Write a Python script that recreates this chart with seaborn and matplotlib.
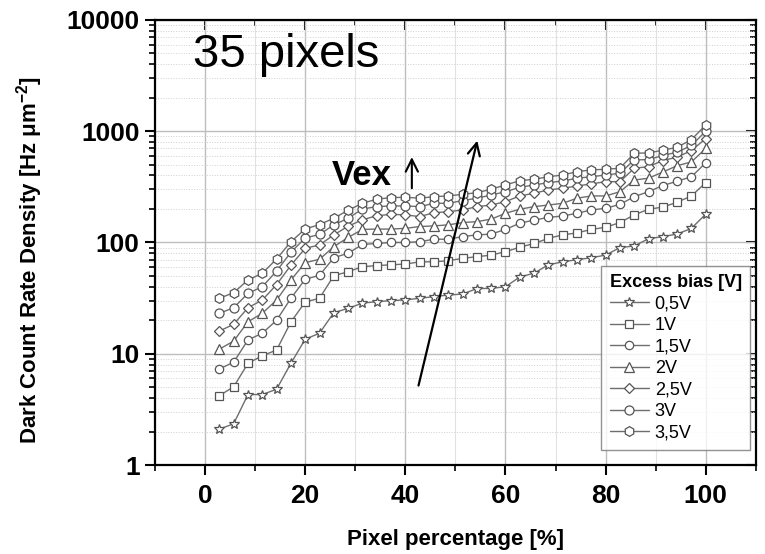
import matplotlib
matplotlib.use("Agg")
import matplotlib.pyplot as plt
import pandas as pd
import seaborn as sns
from matplotlib.ticker import FixedLocator, LogLocator, NullFormatter

# Pixel percentage positions (35 pixels)
pixel_pct = [2.857, 5.714, 8.571, 11.429, 14.286, 17.143, 20.0, 22.857, 25.714,
             28.571, 31.429, 34.286, 37.143, 40.0, 42.857, 45.714, 48.571, 51.429,
             54.286, 57.143, 60.0, 62.857, 65.714, 68.571, 71.429, 74.286, 77.143,
             80.0, 82.857, 85.714, 88.571, 91.429, 94.286, 97.143, 100.0]

bias_labels = ["0,5V", "1V", "1,5V", "2V", "2,5V", "3V", "3,5V"]

dcr_05 = [2.1, 2.35, 4.3, 4.3, 4.8, 8.2, 13.5, 15.3, 23.4, 25.6, 28.5, 29.4, 30, 30.5,
          31.5, 32.6, 33.7, 34.4, 38.5, 38.7, 40, 49, 53, 63, 67, 70, 73, 77, 90, 93,
          108, 113, 119, 134, 180]
dcr_10 = [4.2, 5.05, 8.2, 9.6, 10.8, 19.3, 29.2, 31.5, 50.3, 54.6, 60.6, 62, 63, 64,
          67, 67, 68.6, 72, 74.5, 77, 82.7, 90.6, 98, 109, 117, 122, 131, 137, 151,
          177, 199, 208, 230, 262, 345]
dcr_15 = [7.3, 8.4, 13.3, 15.3, 20, 31.5, 46.7, 50.7, 73, 80, 96, 98, 100, 100, 101.6,
          107, 107, 113, 117, 119, 131, 149, 159, 168, 173, 183, 196, 203, 220, 258,
          286, 325, 355, 390, 520]
dcr_20 = [11.0, 13.0, 19.4, 23.1, 30.4, 46, 65.9, 70.6, 91.7, 111, 131, 132, 132, 134,
          139, 141, 144, 151, 154, 162, 183, 199, 210, 217, 225, 250, 262, 262, 286,
          364, 378, 430, 490, 530, 700]
dcr_25 = [16.0, 18.4, 25.9, 30.4, 41.8, 62.4, 88.7, 95, 117, 140, 160, 174, 179, 177,
          171, 185, 189, 196, 210, 217, 233, 262, 277, 297, 307, 322, 336, 352, 352,
          465, 480, 545, 585, 670, 860]
dcr_30 = [23.1, 25.9, 34.9, 40, 55.4, 81.6, 110, 118, 144, 165, 200, 210, 213, 213,
          210, 225, 225, 238, 250, 267, 286, 313, 329, 345, 357, 378, 390, 404, 419,
          552, 556, 605, 648, 745, 1000]
dcr_35 = [31.5, 35.4, 46, 52.9, 71, 101.6, 132, 145, 165, 195, 225, 245, 253, 255,
          250, 258, 262, 271, 280, 301, 329, 359, 370, 390, 404, 433, 449, 455, 465,
          634, 638, 675, 717, 840, 1140]

series = [dcr_05, dcr_10, dcr_15, dcr_20, dcr_25, dcr_30, dcr_35]
markers = ["*", "s", "o", "^", "D", "o", "h"]
msizes = [7.5, 6, 6, 6.5, 5.5, 6.5, 7]

sns.set_theme(style="white")
plt.rcParams["font.family"] = ["Liberation Sans", "DejaVu Sans"]
plt.rcParams["text.color"] = "black"
plt.rcParams["axes.labelcolor"] = "black"
plt.rcParams["xtick.color"] = "black"
plt.rcParams["ytick.color"] = "black"

fig, ax = plt.subplots(figsize=(7.65, 5.54), dpi=100)
fig.subplots_adjust(left=0.2026, right=0.988, top=0.964, bottom=0.1606)

line_col = "#6e6e6e"
for vals, lab, mk, ms in zip(series, bias_labels, markers, msizes):
    df = pd.DataFrame({"pct": pixel_pct, "dcr": vals})
    sns.lineplot(data=df, x="pct", y="dcr", ax=ax, color=line_col, lw=1.0,
                 marker=mk, markersize=ms, markerfacecolor="white",
                 markeredgecolor="#555555", markeredgewidth=0.9, label=lab,
                 zorder=3)

ax.set_yscale("log")
ax.set_xlim(-10, 110)
ax.set_ylim(1, 10000)

# ticks
ax.xaxis.set_major_locator(FixedLocator([0, 20, 40, 60, 80, 100]))
ax.xaxis.set_minor_locator(FixedLocator([-10, 10, 30, 50, 70, 90, 110]))
ax.yaxis.set_major_locator(FixedLocator([1, 10, 100, 1000, 10000]))
ax.yaxis.set_minor_locator(LogLocator(base=10, subs=range(2, 10)))
ax.yaxis.set_minor_formatter(NullFormatter())
ax.set_yticklabels(["1", "10", "100", "1000", "10000"])

ax.tick_params(axis="both", which="major", direction="out", length=7, width=1.5,
               labelsize=19, color="black", labelcolor="black", left=True,
               bottom=True, pad=4)
ax.tick_params(axis="x", which="major", pad=7)
ax.tick_params(axis="both", which="minor", direction="out", length=4, width=1.2,
               color="black", left=True, bottom=True)
for t in ax.get_xticklabels() + ax.get_yticklabels():
    t.set_fontweight("bold")

# mirrored inward ticks on top and right
top = ax.secondary_xaxis("top")
top.xaxis.set_major_locator(FixedLocator([0, 20, 40, 60, 80, 100]))
top.xaxis.set_minor_locator(FixedLocator([10, 30, 50, 70, 90]))
top.tick_params(which="major", direction="in", length=7, width=1.5, labeltop=False)
top.tick_params(which="minor", direction="in", length=4, width=1.2)
right = ax.secondary_yaxis("right")
right.yaxis.set_major_locator(FixedLocator([1, 10, 100, 1000, 10000]))
right.yaxis.set_minor_locator(LogLocator(base=10, subs=range(2, 10)))
right.yaxis.set_minor_formatter(NullFormatter())
right.tick_params(which="major", direction="in", length=7, width=1.5, labelright=False)
right.tick_params(which="minor", direction="in", length=4, width=1.2)
for sp in list(top.spines.values()) + list(right.spines.values()):
    sp.set_visible(False)

# grid
ax.grid(which="major", color="#bdbdbd", lw=1.0, zorder=0)
ax.grid(which="minor", axis="x", color="#e2e2e2", lw=0.8, zorder=0)
ax.grid(which="minor", axis="y", color="#d0d0d0", lw=0.7, ls=":", zorder=0)

for sp in ax.spines.values():
    sp.set_visible(True)
    sp.set_color("black")
    sp.set_linewidth(1.6)

ax.set_xlabel("Pixel percentage [%]", fontsize=16, fontweight="bold", labelpad=15)
ax.set_ylabel(r"Dark Count Rate Density [Hz $\mathregular{\mu m^{-2}}$]",
              fontsize=16, fontweight="bold")
ax.yaxis.set_label_coords(-0.183, 0.46)

# annotations
ax.text(-2.4, 4800, "35 pixels", fontsize=34, va="center", ha="left")
ax.text(25.4, 400, "Vex", fontsize=25, fontweight="bold", va="center", ha="left")
ax.annotate("", xy=(41.3, 620), xytext=(41.3, 290),
            arrowprops=dict(arrowstyle="->", lw=1.5, color="black", mutation_scale=22))
ax.annotate("", xy=(54.5, 870), xytext=(42.5, 4.9),
            arrowprops=dict(arrowstyle="->", lw=1.6, color="black", mutation_scale=22))

leg = ax.legend(title="Excess bias [V]", loc="lower right",
                bbox_to_anchor=(0.99, 0.034), borderaxespad=0, fontsize=13,
                title_fontproperties={"weight": "bold", "size": 13},
                frameon=True, fancybox=False, edgecolor="#777777",
                handlelength=2.2, handletextpad=0.3, labelspacing=0.25,
                borderpad=0.45)
leg.get_frame().set_linewidth(1.0)
leg._legend_box.align = "left"

fig.savefig("out.png", dpi=100)
